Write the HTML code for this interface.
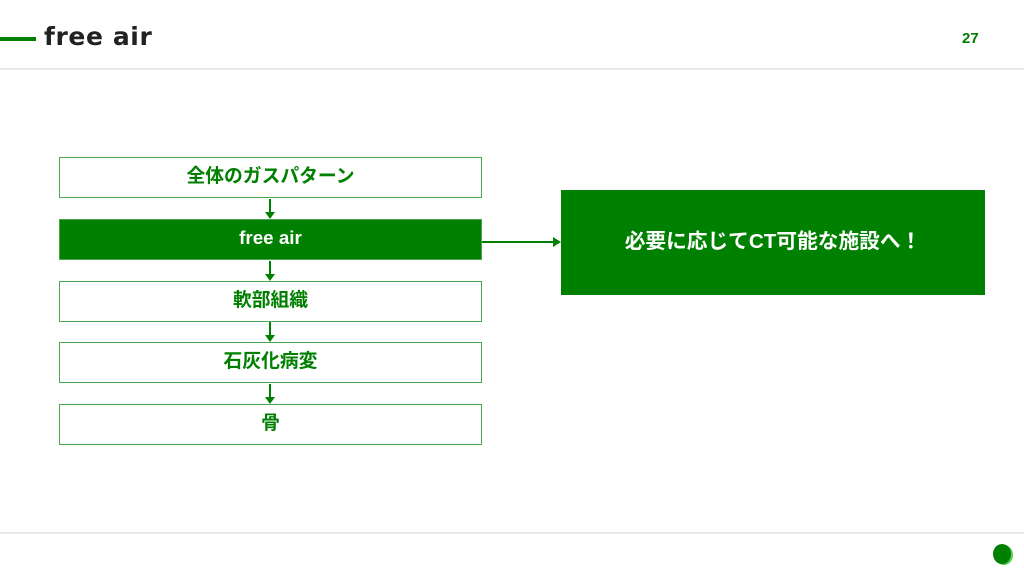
<!DOCTYPE html>
<html><head><meta charset="utf-8"><style>
body{margin:0;width:1024px;height:576px;background:#fff;position:relative;overflow:hidden;font-family:"Liberation Sans","Noto Sans CJK JP",sans-serif;}
.a{position:absolute}
.box{position:absolute;left:59px;width:421px;height:39px;border:1px solid #4ca64c;background:#fff;color:#008000;font-weight:bold;font-size:18.8px;text-align:center;line-height:36px;}
.vl{position:absolute;left:269px;width:2px;background:#008000}
.ah{position:absolute;left:265px;width:0;height:0;border-left:5px solid transparent;border-right:5px solid transparent;border-top:7px solid #008000}
</style></head><body>
<div class="a" style="left:0;top:37px;width:36px;height:4px;background:#008000"></div>
<div class="a" style="left:44px;top:22px;font-size:25px;font-weight:bold;color:#222;letter-spacing:0.6px;font-family:'DejaVu Sans',sans-serif">free air</div>
<div class="a" style="left:962px;top:30px;font-size:15px;font-weight:bold;color:#008000">27</div>
<div class="a" style="left:0;top:68px;width:1024px;height:2px;background:#e8e8e8"></div>
<div class="a" style="left:0;top:532px;width:1024px;height:2px;background:#e8e8e8"></div>
<div class="a" style="left:993px;top:544px;width:18px;height:20px;border-radius:50%;background:#008000;box-shadow:2px 1px 0 #5c5"></div>

<div class="box" style="top:157px">全体のガスパターン</div>
<div class="box" style="top:219px;background:#008000;color:#fff;border-color:#4ca64c">free air</div>
<div class="box" style="top:281px">軟部組織</div>
<div class="box" style="top:342px">石灰化病変</div>
<div class="box" style="top:404px">骨</div>

<div class="vl" style="top:199px;height:14px"></div><div class="ah" style="top:212px"></div>
<div class="vl" style="top:261px;height:13px"></div><div class="ah" style="top:274px"></div>
<div class="vl" style="top:322px;height:13px"></div><div class="ah" style="top:335px"></div>
<div class="vl" style="top:384px;height:13px"></div><div class="ah" style="top:397px"></div>

<div class="a" style="left:482px;top:241px;width:72px;height:2px;background:#008000"></div>
<div class="a" style="left:553px;top:237px;border-top:5px solid transparent;border-bottom:5px solid transparent;border-left:8px solid #008000"></div>
<div class="a" style="left:561px;top:190px;width:424px;height:105px;background:#008000;color:#fff;font-weight:bold;font-size:20.7px;text-align:center;line-height:103px">必要に応じてCT可能な施設へ！</div>
</body></html>
